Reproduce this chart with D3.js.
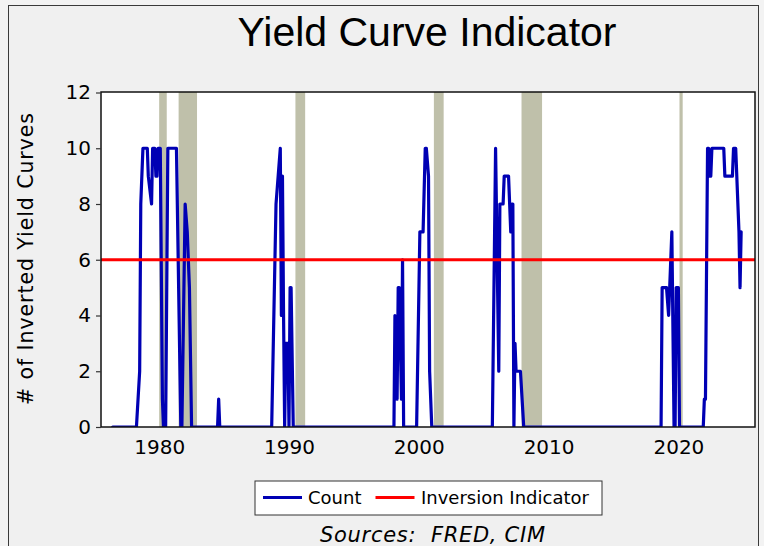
<!DOCTYPE html>
<html>
<head>
<meta charset="utf-8">
<script src="https://cdn.jsdelivr.net/npm/d3@7/dist/d3.min.js"></script>
<style>
  html, body { margin: 0; padding: 0; background: #f3f3f3; }
  svg { display: block; }
</style>
</head>
<body>
<div id="chart"></div>
<script>
// ---------------- data ----------------
const titleText = "Yield Curve Indicator";
const yAxisTitle = "# of Inverted Yield Curves";
const sourceText = "Sources:  FRED, CIM";
const seriesNames = ["Count", "Inversion Indicator"];

const countMonths = [
  "1976-06","1978-04","1978-07","1978-08","1978-10","1979-02","1979-03","1979-06","1979-07",
  "1979-09","1979-10","1979-11","1979-12","1980-02","1980-04","1980-05","1980-07","1980-09","1981-05",
  "1981-09","1981-10","1982-01","1982-03","1982-05","1982-07",
  "1984-07","1984-08","1984-09",
  "1988-09","1989-01","1989-05","1989-06","1989-07","1989-08","1989-09","1989-10","1989-12","1990-01",
  "1990-02","1990-03","1990-05",
  "1998-02","1998-03","1998-05","1998-06","1998-07","1998-09","1998-10","1998-11",
  "1999-11","2000-02","2000-05","2000-07","2000-08","2000-10","2000-11","2001-01",
  "2005-09","2005-12","2006-03","2006-04","2006-07","2006-08","2006-12","2007-01","2007-02","2007-03",
  "2007-04","2007-05","2007-06","2007-07","2007-11","2008-02",
  "2018-09","2018-10","2019-02","2019-04","2019-07","2019-09","2019-10","2019-11","2020-01","2020-02",
  "2021-12","2022-01","2022-02","2022-04","2022-05","2022-06","2022-07","2022-08","2023-07","2023-08",
  "2024-03","2024-04","2024-06","2024-09","2024-10","2024-11"
];
const countValues = [
  0,0,2,8,10,10,9,8,10,
  10,9,9,10,10,1,0,0,10,10,
  0,0,8,7,5,0,
  0,1,0,
  0,8,10,4,9,4,0,3,3,0,
  5,5,0,
  0,4,1,5,5,1,6,0,
  0,7,7,10,10,9,2,0,
  0,10,2,8,8,9,9,8,7,8,
  8,0,3,2,2,0,
  0,5,5,4,7,0,0,5,5,0,
  0,1,1,10,10,9,9,10,10,9,
  9,10,10,7,5,7
];
const indicatorLevel = 6;

const recessionStarts = ["1980-01","1981-07","1990-07","2001-03","2007-12","2020-02"];
const recessionEnds   = ["1980-07","1982-11","1991-03","2001-11","2009-06","2020-04"];

const yTickValues = [0, 2, 4, 6, 8, 10, 12];
const xTickYears = [1980, 1990, 2000, 2010, 2020];

// ---------------- drawing ----------------
const W = 764, H = 546;
const plot = { left: 101, right: 755, top: 92, bottom: 427 };
const parse = d3.timeParse("%Y-%m");

const x = d3.scaleTime()
  .domain([new Date(1975, 6, 9), new Date(2025, 10, 26)])
  .range([plot.left, plot.right]);
const y = d3.scaleLinear().domain([0, 12]).range([plot.bottom, plot.top + 0.5]);

const svg = d3.select("#chart").append("svg").attr("width", W).attr("height", H);

svg.append("rect").attr("x", 8.5).attr("y", 5.5).attr("width", 750).attr("height", 570)
  .attr("fill", "#f0f0f0").attr("stroke", "#3a3a3a").attr("stroke-width", 1);

svg.append("text")
  .attr("x", (plot.left + plot.right) / 2 - 1).attr("y", 45.5)
  .attr("text-anchor", "middle")
  .attr("font-family", "'Liberation Sans', Arial, sans-serif")
  .attr("font-size", 41).attr("fill", "#000")
  .text(titleText);

svg.append("defs").append("clipPath").attr("id", "clip")
  .append("rect").attr("x", plot.left).attr("y", plot.top)
  .attr("width", plot.right - plot.left).attr("height", plot.bottom - plot.top);

svg.append("rect").attr("x", plot.left).attr("y", plot.top)
  .attr("width", plot.right - plot.left).attr("height", plot.bottom - plot.top)
  .attr("fill", "#ffffff");

const recessions = recessionStarts.map((s, i) => ({
  start: parse(s), end: d3.timeMonth.offset(parse(recessionEnds[i]), 1)
}));
svg.append("g").attr("clip-path", "url(#clip)")
  .selectAll("rect").data(recessions).join("rect")
  .attr("x", d => x(d.start)).attr("width", d => x(d.end) - x(d.start))
  .attr("y", plot.top).attr("height", plot.bottom - plot.top)
  .attr("fill", "#bfc0aa");

const countData = countMonths.map((m, i) => ({ date: parse(m), v: countValues[i] }));
const line = d3.line().x(d => x(d.date)).y(d => y(d.v));

const g = svg.append("g").attr("clip-path", "url(#clip)");
g.append("path").datum(countData).attr("d", line)
  .attr("fill", "none").attr("stroke", "#0000b4").attr("stroke-width", 3.2)
  .attr("stroke-linejoin", "round").attr("stroke-linecap", "round");

const indicatorData = x.domain().map(d => ({ date: d, v: indicatorLevel }));
g.append("path").datum(indicatorData).attr("d", line)
  .attr("fill", "none").attr("stroke", "#ff0000").attr("stroke-width", 3.2);

svg.append("rect").attr("x", plot.left).attr("y", plot.top)
  .attr("width", plot.right - plot.left).attr("height", plot.bottom - plot.top)
  .attr("fill", "none").attr("stroke", "#111").attr("stroke-width", 1.5);

const yAxis = svg.append("g").attr("transform", `translate(${plot.left},0)`)
  .call(d3.axisLeft(y).tickValues(yTickValues).tickSize(5).tickPadding(5));
yAxis.select(".domain").remove();
yAxis.selectAll(".tick line").attr("stroke", "#333").attr("stroke-width", 1.2);
yAxis.selectAll("text").attr("font-family", "'DejaVu Sans', Verdana, sans-serif")
  .attr("font-size", 20).attr("fill", "#000");

const xAxis = svg.append("g").attr("transform", `translate(0,${plot.bottom})`)
  .call(d3.axisBottom(x).tickValues(xTickYears.map(yr => new Date(yr, 0, 1)))
    .tickFormat(d3.timeFormat("%Y")).tickSize(0).tickPadding(13));
xAxis.select(".domain").remove();
xAxis.selectAll("text").attr("font-family", "'DejaVu Sans', Verdana, sans-serif")
  .attr("font-size", 20).attr("fill", "#000");

svg.append("text")
  .attr("transform", `translate(33,${(plot.top + plot.bottom) / 2 - 0.5}) rotate(-90)`)
  .attr("text-anchor", "middle")
  .attr("font-family", "'DejaVu Sans', Verdana, sans-serif")
  .attr("font-size", 20.5).attr("fill", "#000")
  .attr("textLength", 292).attr("lengthAdjust", "spacing")
  .text(yAxisTitle);

// legend
const lg = svg.append("g");
lg.append("rect").attr("x", 255).attr("y", 481).attr("width", 347).attr("height", 34)
  .attr("fill", "#fff").attr("stroke", "#333").attr("stroke-width", 1);
const legendItems = [
  { name: seriesNames[0], color: "#0000b4", x0: 263, tx: 308 },
  { name: seriesNames[1], color: "#ff0000", x0: 375.5, tx: 421 }
];
legendItems.forEach(it => {
  lg.append("line").attr("x1", it.x0).attr("x2", it.x0 + 39).attr("y1", 497.5).attr("y2", 497.5)
    .attr("stroke", it.color).attr("stroke-width", 3.2);
  lg.append("text").attr("x", it.tx).attr("y", 504)
    .attr("font-family", "'DejaVu Sans', Verdana, sans-serif")
    .attr("font-size", 18).attr("fill", "#000").text(it.name);
});

svg.append("text").attr("x", 320).attr("y", 541.5)
  .attr("font-family", "'DejaVu Sans', Verdana, sans-serif")
  .attr("font-style", "italic").attr("font-size", 21).attr("fill", "#000")
  .attr("xml:space", "preserve").style("white-space", "pre")
  .attr("textLength", 225).attr("lengthAdjust", "spacing")
  .text(sourceText);
</script>
</body>
</html>
